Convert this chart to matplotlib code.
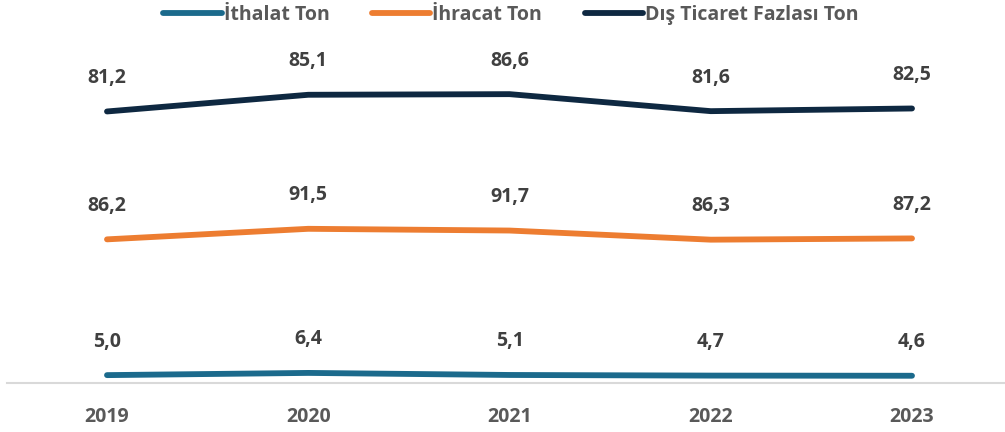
import matplotlib
matplotlib.use("Agg")
import matplotlib.pyplot as plt
import numpy as np

years = ["2019", "2020", "2021", "2022", "2023"]
ithalat = [5.0, 6.4, 5.1, 4.7, 4.6]
ihracat = [86.2, 91.5, 91.7, 86.3, 87.2]
fazla = [81.2, 85.1, 86.6, 81.6, 82.5]

series_names = ["İthalat Ton", "İhracat Ton", "Dış Ticaret Fazlası Ton"]
colors = ["#1b6a8c", "#ed7d31", "#0e2841"]

plt.rcParams['font.family'] = ['Open Sans', 'DejaVu Sans']

fig = plt.figure(figsize=(10.05, 4.32), dpi=100)
W, H = 1005, 432
ax = fig.add_axes([7 / W, (H - 383) / H, (1005 - 7) / W, 315 / H])

x = np.arange(len(years))
data = [ithalat, ihracat, fazla]
cum = np.zeros(len(years))
handles = []
for vals, name, c in zip(data, series_names, colors):
    cum = cum + np.array(vals)
    h, = ax.plot(x, cum, color=c, lw=4.2, solid_capstyle='round', label=name)
    handles.append(h)
    for xi, yi, v in zip(x, cum, vals):
        ax.annotate(f"{v:.1f}".replace(".", ","), (xi, yi), xytext=(0, 17),
                    textcoords='offset points', ha='center', va='bottom',
                    fontsize=14, fontweight='bold', color='#404040')

ax.set_xlim(-100 / 201.25, 4 + 93 / 201.25)
ax.set_ylim(0, 200)
ax.set_xticks(x)
ax.set_xticklabels(years, fontsize=14, fontweight='bold', color='#595959')
ax.tick_params(axis='x', length=0, pad=17)
ax.set_yticks([])
for s in ['top', 'right', 'left']:
    ax.spines[s].set_visible(False)
ax.spines['bottom'].set_color('#d9d9d9')
ax.spines['bottom'].set_linewidth(1.5)

leg = fig.legend(handles=handles, loc='center', bbox_to_anchor=(511 / W, 1 - 15 / H),
                 ncol=3, frameon=False, prop={'size': 14, 'weight': 'bold'},
                 handlelength=3.0, handletextpad=0.1, columnspacing=2.2)
for t in leg.get_texts():
    t.set_color('#595959')

fig.savefig("out.png", dpi=100)
